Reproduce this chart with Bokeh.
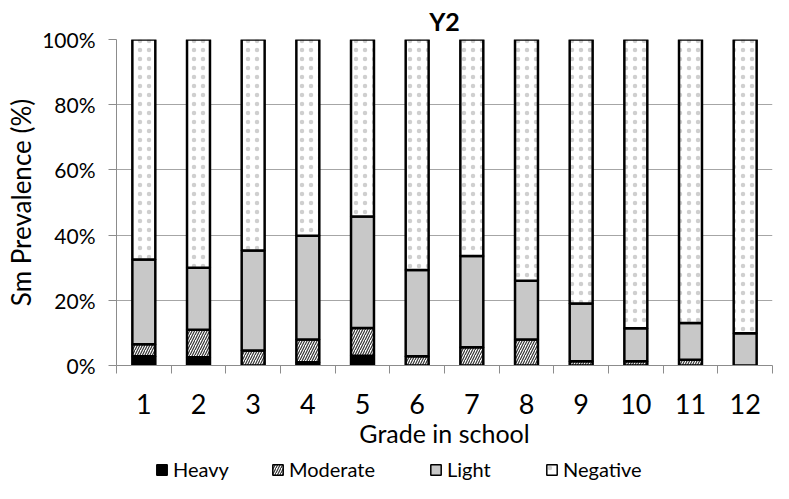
from bokeh.plotting import figure
from bokeh.layouts import column
from bokeh.models import (FixedTicker, PrintfTickFormatter, Legend, LegendItem,
                          ColumnDataSource, Range1d, Title)
from bokeh.transform import stack
from bokeh.embed import file_html
from bokeh.resources import INLINE

grades = [1, 2, 3, 4, 5, 6, 7, 8, 9, 10, 11, 12]
grade_labels = ["1", "2", "3", "4", "5", "6", "7", "8", "9", "10", "11", "12"]
heavy = [2.8, 2.5, 0.0, 1.0, 3.0, 0.0, 0.0, 0.0, 0.0, 0.0, 0.0, 0.0]
moderate = [3.7, 8.5, 4.6, 7.0, 8.5, 2.8, 5.6, 8.0, 1.3, 1.3, 1.8, 0.0]
light = [26.0, 19.0, 30.7, 31.8, 34.2, 26.5, 28.0, 18.0, 17.7, 10.1, 11.2, 9.9]
negative = [100.0 - h - m - l for h, m, l in zip(heavy, moderate, light)]
y_ticks = [0, 20, 40, 60, 80, 100]

FONT = "Lato"
FRAME_LEFT = 116

src = ColumnDataSource(dict(x=grades, heavy=heavy, moderate=moderate,
                            light=light, negative=negative))

p = figure(width=773, height=453, output_backend="svg", toolbar_location=None,
           x_range=Range1d(0.5, 12.5), y_range=Range1d(0, 100),
           min_border_left=FRAME_LEFT, min_border_right=1, min_border_top=0,
           min_border_bottom=88)
p.outline_line_color = None
p.background_fill_color = "white"
p.border_fill_color = "white"

t = Title(text="Y2", align="center", text_font=FONT, text_font_size="25px",
          text_font_style="bold", text_color="black", offset=0, standoff=7)
p.add_layout(t, "above")

styles = dict(
    heavy=dict(fill_color="black"),
    moderate=dict(fill_color="white", hatch_pattern="/", hatch_color="#333333",
                  hatch_scale=5, hatch_weight=1.2),
    light=dict(fill_color="#c8c8c8"),
    negative=dict(fill_color="white", hatch_pattern=".", hatch_color="#cfcfcf",
                  hatch_scale=9, hatch_weight=1.0),
)
names = ["heavy", "moderate", "light", "negative"]
labels = ["Heavy", "Moderate", "Light", "Negative"]
for i, n in enumerate(names):
    p.vbar(x="x", bottom=stack(*names[:i]), top=stack(*names[:i + 1]),
           width=0.42, source=src, line_color="black", line_width=2.5,
           **styles[n])

# axes
p.xgrid.visible = False
p.ygrid.grid_line_color = "#a6a6a6"
p.ygrid.grid_line_width = 1.2
p.ygrid.ticker = FixedTicker(ticks=y_ticks)

ya = p.yaxis[0]
ya.ticker = FixedTicker(ticks=y_ticks)
ya.formatter = PrintfTickFormatter(format="%d%%")
ya.axis_line_color = "#8c8c8c"
ya.major_tick_line_color = "#8c8c8c"
ya.major_tick_out = 8
ya.major_tick_in = 0
ya.minor_tick_line_color = None
ya.major_label_text_font = FONT
ya.major_label_text_font_size = "21px"
ya.major_label_text_color = "black"
ya.major_label_standoff = 13
ya.axis_label = "Sm Prevalence (%)"
ya.axis_label_text_font = FONT
ya.axis_label_text_font_size = "26px"
ya.axis_label_text_font_style = "normal"
ya.axis_label_text_color = "black"
ya.axis_label_standoff = 2

xa = p.xaxis[0]
xa.ticker = FixedTicker(ticks=grades, minor_ticks=[g + 0.5 for g in [0] + grades])
xa.major_label_overrides = {g: s for g, s in zip(grades, grade_labels)}
xa.axis_line_color = "#8c8c8c"
xa.major_tick_line_color = None
xa.major_tick_out = 8
xa.minor_tick_line_color = "#8c8c8c"
xa.minor_tick_out = 8
xa.minor_tick_in = 0
xa.major_label_text_font = FONT
xa.major_label_text_font_size = "27px"
xa.major_label_text_color = "black"
xa.major_label_standoff = 20
xa.axis_label = "Grade in school"
xa.axis_label_text_font = FONT
xa.axis_label_text_font_size = "25px"
xa.axis_label_text_font_style = "normal"
xa.axis_label_text_color = "black"
xa.axis_label_standoff = 1

# legend strip below the chart (its renderers are hidden; only the keys show)
lp = figure(width=773, height=30, output_backend="svg", toolbar_location=None,
            x_axis_type=None, y_axis_type=None,
            x_range=Range1d(0.5, 12.5), y_range=Range1d(0, 100),
            min_border_left=0, min_border_right=0, min_border_top=0,
            min_border_bottom=0)
lp.outline_line_color = None
lp.grid.visible = False
lp.border_fill_color = "white"
legend_x = [155, 271, 429, 545]
for n, lab, lx in zip(names, labels, legend_x):
    r = lp.vbar(x="x", top=n, width=0.42, source=src, visible=False,
                line_color="black", line_width=1.5, **styles[n])
    lg = Legend(items=[LegendItem(label=lab, renderers=[r])],
                location=(lx - FRAME_LEFT, 2),
                label_text_font=FONT, label_text_font_size="20px",
                label_text_color="black", glyph_width=13, glyph_height=13,
                label_standoff=5, padding=0, margin=0,
                inactive_fill_alpha=0,
                border_line_color=None, background_fill_alpha=0)
    lp.add_layout(lg, "center")

layout = column(p, lp, spacing=0)
open("out.html", "w").write(file_html(layout, INLINE))
